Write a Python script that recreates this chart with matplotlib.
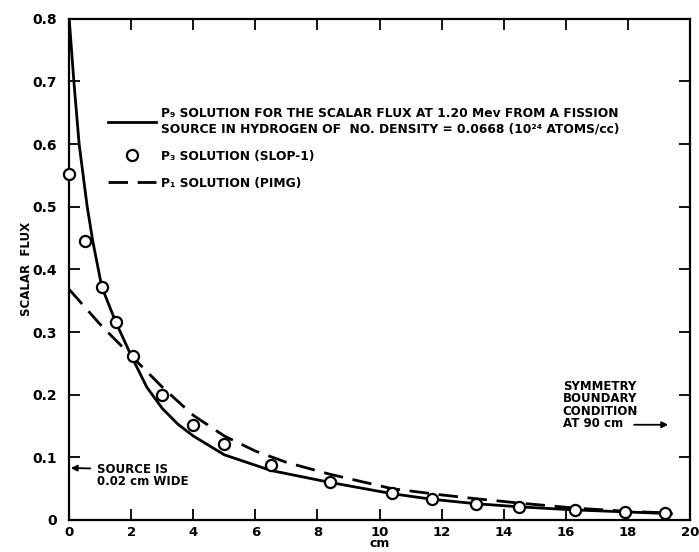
import matplotlib
matplotlib.use("Agg")
import matplotlib.pyplot as plt

plt.rcParams['font.family'] = ['DejaVu Sans']
plt.rcParams['font.weight'] = 'bold'

# P9 solution (solid curve)
p9_x = [0, 0.15, 0.32, 0.58, 0.76, 1.05, 1.5, 2.0, 2.5, 3.0, 3.5, 4.0, 5.0,
        6.5, 8.4, 10.4, 11.7, 13.1, 14.5, 16.3, 17.9, 19.4]
p9_y = [0.80, 0.70, 0.60, 0.50, 0.445, 0.372, 0.316, 0.262, 0.212, 0.178,
        0.153, 0.134, 0.104, 0.079, 0.060, 0.042, 0.033, 0.026, 0.021, 0.016,
        0.013, 0.010]

# P3 solution (SLOP-1), open circles
p3_x = [0, 0.5, 1.05, 1.5, 2.05, 3.0, 4.0, 5.0, 6.5, 8.4, 10.4, 11.7, 13.1,
        14.5, 16.3, 17.9, 19.2]
p3_y = [0.553, 0.445, 0.372, 0.316, 0.262, 0.199, 0.152, 0.121, 0.088, 0.060,
        0.043, 0.033, 0.026, 0.021, 0.016, 0.013, 0.011]

# P1 solution (PIMG), dashed
p1_x = [0, 1, 2, 3, 4, 5, 6, 7, 8.4, 10.4, 12, 13.1, 14.5, 16.3, 17.9, 19.4]
p1_y = [0.368, 0.312, 0.262, 0.212, 0.167, 0.134, 0.110, 0.092, 0.073, 0.050,
        0.040, 0.034, 0.027, 0.019, 0.014, 0.011]

x_ticks = [0, 2, 4, 6, 8, 10, 12, 14, 16, 18, 20]
y_ticks = [0, 0.1, 0.2, 0.3, 0.4, 0.5, 0.6, 0.7, 0.8]
y_labels = ['0', '0.1', '0.2', '0.3', '0.4', '0.5', '0.6', '0.7', '0.8']

fig = plt.figure(figsize=(6.99, 5.52), dpi=100)
ax = fig.add_axes([0.099, 0.058, 0.888, 0.908])

ax.plot(p9_x, p9_y, color='black', lw=2.0,
        label='P\u2089 SOLUTION FOR THE SCALAR FLUX AT 1.20 Mev FROM A FISSION\n'
              'SOURCE IN HYDROGEN OF  NO. DENSITY = 0.0668 (10\u00b2\u2074 ATOMS/cc)')
ax.plot(p3_x, p3_y, 'o', color='black', mfc='white', ms=8, mew=1.6,
        label='P\u2083 SOLUTION (SLOP-1)', zorder=3, clip_on=False)
ax.plot(p1_x, p1_y, color='black', lw=2.0, dashes=(7, 3.5),
        label='P\u2081 SOLUTION (PIMG)')

ax.set_xlim(0, 20)
ax.set_ylim(0, 0.8)
ax.set_xticks(x_ticks)
ax.set_yticks(y_ticks)
ax.set_yticklabels(y_labels)
ax.tick_params(direction='in', length=8, width=1.3, top=True, right=True,
               labelsize=10)
ax.tick_params(axis='y', pad=9)
ax.tick_params(axis='x', pad=4, labelsize=9.5)
for s in ax.spines.values():
    s.set_linewidth(1.6)

ax.set_ylabel('SCALAR  FLUX', fontsize=8.5, fontweight='bold')
ax.yaxis.set_label_coords(-0.058, 0.5)
ax.set_xlabel('cm', fontsize=9, fontweight='bold', labelpad=-1)

ax.legend(loc='upper left', bbox_to_anchor=(0.063, 0.823), frameon=False,
          fontsize=8.8, handlelength=3.9, handletextpad=0.45, borderpad=0,
          borderaxespad=0, labelspacing=1.15)

ax.annotate('SOURCE IS\n0.02 cm WIDE', xy=(0.05, 0.083), xytext=(0.9, 0.091),
            fontsize=8.5, va='top', ha='left', linespacing=0.95,
            arrowprops=dict(arrowstyle='-|>', color='black', lw=1.3,
                            mutation_scale=9, relpos=(0, 0.78), shrinkA=3,
                            shrinkB=0))

ax.text(15.9, 0.224, 'SYMMETRY\nBOUNDARY\nCONDITION\nAT 90 cm', fontsize=8.5,
        va='top', ha='left', linespacing=0.95)
ax.annotate('', xy=(19.3, 0.152), xytext=(18.2, 0.152),
            arrowprops=dict(arrowstyle='-|>', color='black', lw=1.3,
                            mutation_scale=9, shrinkA=0, shrinkB=0))

fig.savefig('out.png', dpi=100)
